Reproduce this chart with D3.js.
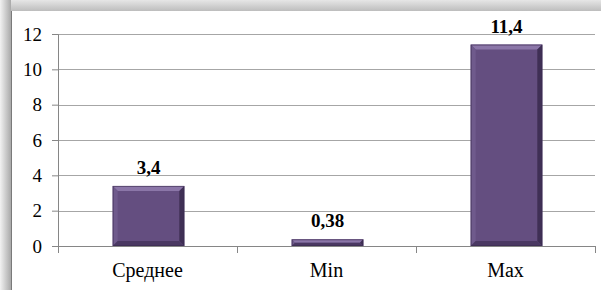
<!DOCTYPE html>
<html>
<head>
<meta charset="utf-8">
<script src="https://cdn.jsdelivr.net/npm/d3@7"></script>
<style>
  html, body { margin: 0; padding: 0; background: #fff; }
  svg { display: block; }
</style>
</head>
<body>
<svg id="chart"></svg>
<script>
const categories = ["Среднее", "Min", "Max"];
const values = [3.4, 0.38, 11.4];
const valueLabels = ["3,4", "0,38", "11,4"];
const yTicks = [0, 2, 4, 6, 8, 10, 12];

const width = 601;
const height = 290;
const margin = { top: 34, right: 6, bottom: 44, left: 58 };
const serif = "Liberation Serif";

const svg = d3.select("#chart")
	.attr("width", width)
	.attr("height", height)
	.attr("font-family", serif);

const defs = svg.append("defs");

const leftShade = defs.append("linearGradient")
	.attr("id", "leftShade")
	.attr("x1", 0).attr("x2", 1).attr("y1", 0).attr("y2", 0);
leftShade.append("stop").attr("offset", 0).attr("stop-color", "#f2f2f2");
leftShade.append("stop").attr("offset", 1).attr("stop-color", "#a9a9a9");

const topShade = defs.append("linearGradient")
	.attr("id", "topShade")
	.attr("x1", 0).attr("x2", 0).attr("y1", 0).attr("y2", 1);
topShade.append("stop").attr("offset", 0).attr("stop-color", "#e6e6e6");
topShade.append("stop").attr("offset", 1).attr("stop-color", "#bdbdbd");

// frame shadow along top and left
svg.append("rect")
	.attr("x", 0).attr("y", 0)
	.attr("width", width).attr("height", 11)
	.attr("fill", "url(#topShade)");
svg.append("rect")
	.attr("x", 0).attr("y", 0)
	.attr("width", 11).attr("height", height)
	.attr("fill", "url(#leftShade)");
svg.append("line")
	.attr("x1", 11.5).attr("x2", 11.5)
	.attr("y1", 11).attr("y2", height)
	.attr("stroke", "#7a7a7a");

const plotW = width - margin.left - margin.right;
const plotH = height - margin.top - margin.bottom;

const g = svg.append("g")
	.attr("transform", `translate(${margin.left}, ${margin.top})`);

const x = d3.scaleBand()
	.domain(categories)
	.range([0, plotW])
	.paddingInner(0.6)
	.paddingOuter(0.3);

const y = d3.scaleLinear()
	.domain([0, 12])
	.range([plotH, 0]);

// gridlines
g.selectAll("line.grid")
	.data(yTicks.filter((d) => d > 0))
	.enter()
	.append("line")
	.attr("class", "grid")
	.attr("x1", 0)
	.attr("x2", plotW)
	.attr("y1", (d) => Math.round(y(d)) + 0.5)
	.attr("y2", (d) => Math.round(y(d)) + 0.5)
	.attr("stroke", "#a6a6a6");

// y axis
const yAxis = g.append("g")
	.call(d3.axisLeft(y).tickValues(yTicks).tickSize(6).tickPadding(10).tickFormat(d3.format("d")))
	.attr("font-family", serif)
	.attr("font-size", 19);
yAxis.select(".domain").attr("stroke", "#868686");
yAxis.selectAll(".tick line").attr("stroke", "#868686");
yAxis.selectAll("text").attr("fill", "#000");

// x axis with ticks at category boundaries
const bounds = d3.range(categories.length + 1).map((i) => i * plotW / categories.length);
const xg = g.append("g").attr("transform", `translate(0, ${plotH})`);
xg.append("line")
	.attr("x1", 0).attr("x2", plotW)
	.attr("y1", 0.5).attr("y2", 0.5)
	.attr("stroke", "#868686");
xg.selectAll("line.tk")
	.data(bounds)
	.enter()
	.append("line")
	.attr("class", "tk")
	.attr("x1", (d) => Math.round(d) + 0.5)
	.attr("x2", (d) => Math.round(d) + 0.5)
	.attr("y1", 0).attr("y2", 7)
	.attr("stroke", "#868686");
xg.selectAll("text")
	.data(categories)
	.enter()
	.append("text")
	.attr("x", (d) => x(d) + x.bandwidth() / 2)
	.attr("y", 31)
	.attr("text-anchor", "middle")
	.attr("font-family", serif)
	.attr("font-size", 20)
	.text((d) => d);

// bars with bevel
const data = categories.map((c, i) => ({ cat: c, value: values[i], label: valueLabels[i] }));

const bars = g.selectAll("g.bar")
	.data(data)
	.enter()
	.append("g")
	.attr("class", "bar");

bars.each(function (d) {
	const bx = x(d.cat) + 1;
	const bw = x.bandwidth();
	const by = y(d.value);
	const bh = plotH - by;
	const b = Math.min(5, bh / 2, bw / 2);
	const el = d3.select(this);
	const x0 = bx, x1 = bx + bw, y0 = by, y1 = by + bh;
	el.append("rect")
		.attr("x", x0).attr("y", y0)
		.attr("width", bw).attr("height", bh)
		.attr("fill", "#644e80");
	const poly = (pts, fill) => el.append("polygon")
		.attr("points", pts.map((p) => p.join(",")).join(" "))
		.attr("fill", fill);
	poly([[x0, y0], [x1, y0], [x1 - b, y0 + b], [x0 + b, y0 + b]], "#8b76a8");
	poly([[x0, y0], [x0 + b, y0 + b], [x0 + b, y1 - b], [x0, y1]], "#6f5a8c");
	poly([[x1, y0], [x1, y1], [x1 - b, y1 - b], [x1 - b, y0 + b]], "#3f2f55");
	poly([[x0, y1], [x1, y1], [x1 - b, y1 - b], [x0 + b, y1 - b]], "#4a3862");
	el.append("rect")
		.attr("x", x0 + 0.5).attr("y", y0 + 0.5)
		.attr("width", bw - 1).attr("height", Math.max(0, bh - 1))
		.attr("fill", "none")
		.attr("stroke", "#3a2b4e")
		.attr("stroke-opacity", 0.6);
	el.append("text")
		.attr("x", bx + bw / 2)
		.attr("y", by - 12)
		.attr("text-anchor", "middle")
		.attr("font-family", serif)
		.attr("font-size", 19)
		.attr("font-weight", "bold")
		.text(d.label);
});
</script>
</body>
</html>
